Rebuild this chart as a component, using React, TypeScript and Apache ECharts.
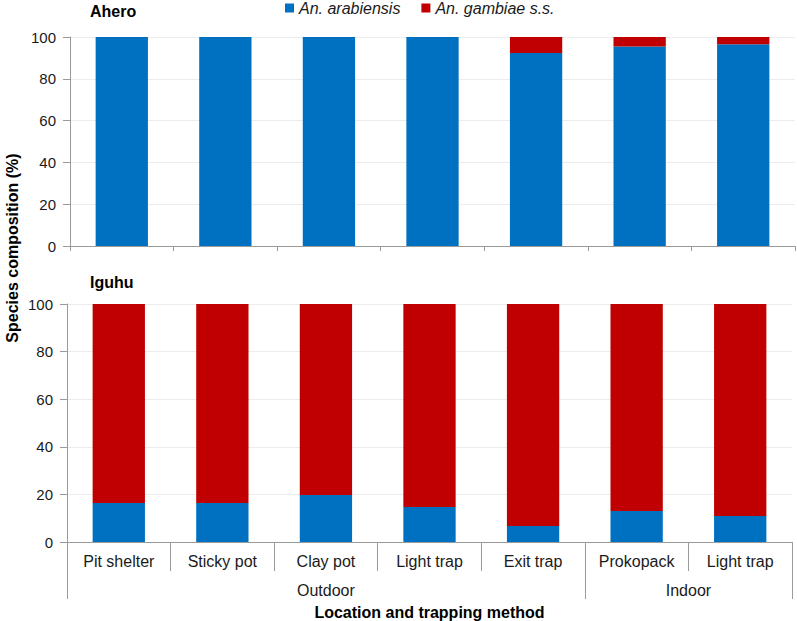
import React, { useEffect, useRef } from "react";
import * as echarts from "echarts";

const categories = ["Pit shelter", "Sticky pot", "Clay pot", "Light trap", "Exit trap", "Prokopack", "Light trap"];
const groupNames = ["Outdoor", "Indoor"];
const groupSizes = [5, 2];
const seriesNames = ["An. arabiensis", "An. gambiae s.s."];
const panelTitles = ["Ahero", "Iguhu"];
const yTicks = [0, 20, 40, 60, 80, 100];

const aheroArabiensis = [100, 100, 100, 100, 92.3, 95.5, 96.5];
const aheroGambiae = [0, 0, 0, 0, 7.7, 4.5, 3.5];
const iguhuArabiensis = [16.4, 16.4, 19.7, 14.7, 6.7, 13.0, 10.9];
const iguhuGambiae = [83.6, 83.6, 80.3, 85.3, 93.3, 87.0, 89.1];

const BLUE = "#0070C0";
const RED = "#C00000";
const FONT = "'Liberation Sans', Arial, sans-serif";
const AXIS = "#9a9a9a";

export default function App() {
  const ref = useRef<HTMLDivElement>(null);
  useEffect(() => {
    document.body.style.margin = "0";
    if (!ref.current) return;
    const chart = echarts.init(ref.current, undefined, { renderer: "svg" });

    const bounds: number[] = [0];
    groupSizes.forEach((s, i) => bounds.push(bounds[i] + s));
    const mids = groupSizes.map((s, i) => bounds[i] + s / 2);

    const yAxisCommon = (gridIndex: number) => ({
      type: "value",
      gridIndex,
      min: 0,
      max: 100,
      interval: 20,
      axisLine: { show: true, lineStyle: { color: AXIS, width: 1 } },
      axisTick: { show: true, length: 7, lineStyle: { color: AXIS } },
      axisLabel: {
        margin: 14,
        fontFamily: FONT,
        fontSize: 15,
        color: "#1a1a1a",
        customValues: yTicks,
      },
      splitLine: { show: true, lineStyle: { color: "#ececec", width: 1 } },
    });

    const barSeries = (name: string, data: number[], color: string, idx: number) => ({
      name,
      type: "bar",
      stack: "p" + idx,
      xAxisIndex: idx,
      yAxisIndex: idx,
      data,
      barWidth: "50.5%",
      itemStyle: { color },
      emphasis: { disabled: true },
    });

    chart.setOption({
      animation: false,
      backgroundColor: "#fff",
      textStyle: { fontFamily: FONT },
      title: [
        {
          text: panelTitles[0],
          left: 90,
          top: 3,
          padding: 0,
          textStyle: { fontFamily: FONT, fontSize: 16, fontWeight: "bold", color: "#000" },
        },
        {
          text: panelTitles[1],
          left: 90,
          top: 274,
          padding: 0,
          textStyle: { fontFamily: FONT, fontSize: 16, fontWeight: "bold", color: "#000" },
        },
      ],
      legend: {
        data: seriesNames,
        left: 285,
        top: 0,
        padding: 0,
        icon: "rect",
        itemWidth: 9,
        itemHeight: 9,
        itemGap: 21,
        textStyle: { fontFamily: FONT, fontSize: 16, fontStyle: "italic", color: "#1a1a1a" },
      },
      grid: [
        { left: 70, right: 2, top: 37, height: 209 },
        { left: 67, right: 5, top: 304, height: 238 },
      ],
      xAxis: [
        {
          type: "category",
          gridIndex: 0,
          data: categories,
          axisLine: { lineStyle: { color: AXIS } },
          axisTick: { show: true, length: 5, interval: 0, lineStyle: { color: AXIS } },
          axisLabel: { show: false },
        },
        {
          type: "category",
          gridIndex: 1,
          data: categories,
          axisLine: { lineStyle: { color: AXIS } },
          axisTick: { show: true, length: 29, interval: 0, lineStyle: { color: AXIS } },
          axisLabel: { interval: 0, margin: 11, fontFamily: FONT, fontSize: 16, color: "#1a1a1a" },
        },
        {
          type: "value",
          gridIndex: 1,
          position: "bottom",
          min: 0,
          max: categories.length,
          axisLine: { show: false },
          splitLine: { show: false },
          axisTick: { show: true, length: 57, customValues: bounds, lineStyle: { color: AXIS } },
          axisLabel: {
            show: true,
            margin: 40,
            customValues: mids,
            fontFamily: FONT,
            fontSize: 16,
            color: "#1a1a1a",
            formatter: (v: number) => {
              const i = mids.indexOf(v);
              return i >= 0 ? groupNames[i] : "";
            },
          },
          name: "Location and trapping method",
          nameLocation: "middle",
          nameGap: 62,
          nameTextStyle: { fontFamily: FONT, fontSize: 16, fontWeight: "bold", color: "#000" },
        },
      ],
      yAxis: [yAxisCommon(0), yAxisCommon(1)],
      graphic: [
        {
          type: "text",
          x: 12,
          y: 248,
          rotation: Math.PI / 2,
          style: {
            text: "Species composition (%)",
            font: `bold 16px ${FONT}`,
            fill: "#000",
            align: "center",
            verticalAlign: "middle",
          },
        },
      ],
      series: [
        barSeries(seriesNames[0], aheroArabiensis, BLUE, 0),
        barSeries(seriesNames[1], aheroGambiae, RED, 0),
        barSeries(seriesNames[0], iguhuArabiensis, BLUE, 1),
        barSeries(seriesNames[1], iguhuGambiae, RED, 1),
      ],
    });
    return () => chart.dispose();
  }, []);
  return <div ref={ref} style={{ width: 797, height: 621 }} />;
}
